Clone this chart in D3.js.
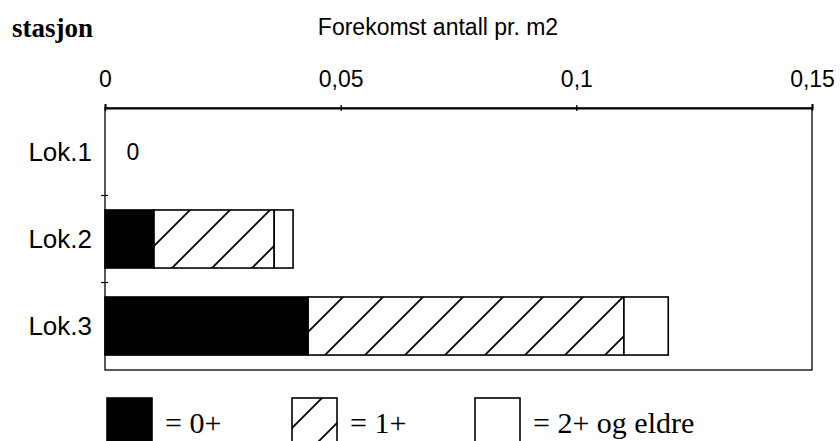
<!DOCTYPE html>
<html><head><meta charset="utf-8">
<script src="https://cdn.jsdelivr.net/npm/d3@7/dist/d3.min.js"></script>
<style>body{margin:0;background:#fff}</style>
</head><body>
<svg id="c" width="840" height="441"></svg>
<script>
const categories = ["Lok.1", "Lok.2", "Lok.3"];
const seriesNames = ["0+", "1+", "2+ og eldre"];
const age0 = [0, 0.0104, 0.0431];
const age1 = [0, 0.0255, 0.0670];
const age2 = [0, 0.0040, 0.0094];
const xTicks = [0, 0.05, 0.1, 0.15];
const xTickLabels = ["0", "0,05", "0,1", "0,15"];
const legendLabels = ["= 0+", "= 1+", "= 2+ og eldre"];

const svg = d3.select("#c");
const L = 105, R = 812, T = 108, B = 370;
const SANS = "Liberation Sans, Arial, sans-serif";
const SERIF = "Liberation Serif, Times New Roman, serif";
const x = d3.scaleLinear().domain([0, 0.15]).range([L, R]);
const y = d3.scaleBand().domain(categories).range([T, B]).paddingInner(0.333).paddingOuter(0.172);

const defs = svg.append("defs");
const pat = defs.append("pattern").attr("id", "hatch").attr("patternUnits", "userSpaceOnUse")
  .attr("width", 40).attr("height", 40);
pat.append("rect").attr("width", 40).attr("height", 40).attr("fill", "#fff");
pat.append("path").attr("d", "M-10,10 L10,-10 M0,40 L40,0 M30,50 L50,30").attr("stroke", "#000").attr("stroke-width", 1.8);

// frame
svg.append("rect").attr("x", L).attr("y", T).attr("width", R - L).attr("height", B - T)
  .attr("fill", "none").attr("stroke", "#000").attr("stroke-width", 1.3);

// top axis
const xAxis = d3.axisTop(x).tickValues(xTicks).tickFormat((d, i) => xTickLabels[i]).tickSize(4).tickPadding(17);
const gx = svg.append("g").attr("transform", `translate(0,${T})`).call(xAxis);
gx.select(".domain").attr("stroke-width", 2);
gx.selectAll(".tick line").attr("stroke-width", 1.3).attr("y2", 3).attr("y1", -3);
gx.selectAll("text").attr("font-family", SANS).attr("font-size", 23).attr("fill", "#000");

// left axis labels
const yAxis = d3.axisLeft(y).tickSize(0).tickPadding(13);
const gy = svg.append("g").attr("transform", `translate(${L},0)`).call(yAxis);
gy.select(".domain").remove();
gy.selectAll("text").attr("font-family", SANS).attr("font-size", 26).attr("fill", "#000").attr("dy", "0.36em");
const bounds = categories.slice(1).map(c => y(c) - y.step() * y.paddingInner() / 2);
svg.selectAll(".ytick").data(bounds).enter().append("line")
  .attr("x1", L - 4).attr("x2", L + 3).attr("y1", d => d).attr("y2", d => d).attr("stroke", "#000").attr("stroke-width", 1.2);

// stacked bars
const rows = categories.map((c, i) => ({ cat: c, v: [age0[i], age1[i], age2[i]] }));
const fills = ["#000", "url(#hatch)", "#fff"];
rows.forEach(r => {
  let acc = 0;
  r.v.forEach((v, k) => {
    if (v <= 0) return;
    svg.append("rect").attr("x", x(acc)).attr("y", y(r.cat)).attr("width", x(acc + v) - x(acc))
      .attr("height", y.bandwidth()).attr("fill", fills[k]).attr("stroke", "#000").attr("stroke-width", 1.6);
    acc += v;
  });
  if (d3.sum(r.v) === 0) {
    svg.append("text").attr("x", x(0) + 28).attr("y", y(r.cat) + y.bandwidth() / 2)
      .attr("dy", "0.36em").attr("text-anchor", "middle").attr("font-family", SANS).attr("font-size", 23).text("0");
  }
});

// titles
svg.append("text").attr("x", 12).attr("y", 37).attr("font-family", SERIF)
  .attr("font-size", 27).attr("font-weight", "bold").text("stasjon");
svg.append("text").attr("x", 438).attr("y", 35).attr("text-anchor", "middle")
  .attr("font-family", SANS).attr("font-size", 23).text("Forekomst antall pr. m2");

// legend
const legX = [107, 292, 475];
seriesNames.forEach((s, k) => {
  svg.append("rect").attr("x", legX[k]).attr("y", 398).attr("width", 45).attr("height", 50)
    .attr("fill", fills[k]).attr("stroke", "#000").attr("stroke-width", 1.6);
  svg.append("text").attr("x", legX[k] + 58).attr("y", 433).attr("font-family", SERIF)
    .attr("font-size", 30).text(legendLabels[k]);
});
</script>
</body></html>
